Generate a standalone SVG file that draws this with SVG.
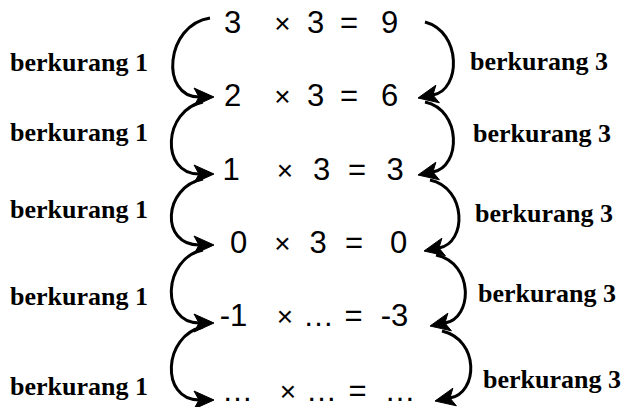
<svg xmlns="http://www.w3.org/2000/svg" width="623" height="407" viewBox="0 0 623 407">
<style>
.eq{font-family:"Liberation Sans",Arial,sans-serif;font-size:31px;fill:#000;text-anchor:middle}
.x{font-family:"Liberation Sans",Arial,sans-serif;font-size:28px;fill:#000;text-anchor:middle}
.lb{font-family:"Liberation Serif","Times New Roman",serif;font-size:26px;font-weight:bold;fill:#000}
.arc{fill:none;stroke:#000;stroke-width:3}
.ah{fill:#000;stroke:#000;stroke-width:1;stroke-linejoin:miter}
</style>
<rect width="623" height="407" fill="#fff"/>
<g id="connectors">
<path class="arc" d="M210 18 C165 25 160 97 199 97"/>
<polygon class="ah" points="214,97 194,88 199,97 194,106"/>
<path class="arc" d="M203 102 C163 110 160 174 199 174"/>
<polygon class="ah" points="214,174 194,165 199,174 194,183"/>
<path class="arc" d="M203 179 C163 187 160 245 199 245"/>
<polygon class="ah" points="214,245 194,236 199,245 194,254"/>
<path class="arc" d="M203 250 C163 258 160 323 199 323"/>
<polygon class="ah" points="214,323 194,314 199,323 194,332"/>
<path class="arc" d="M203 327 C163 335 160 400 199 400"/>
<polygon class="ah" points="214,400 194,391 199,400 194,409"/>
<path class="arc" d="M425 22 C462 32 461 90 433 95"/>
<polygon class="ah" points="418,98 439.4,102.8 432.9,95.0 435.9,85.2"/>
<path class="arc" d="M425 102 C462 110 461 167 433 172"/>
<polygon class="ah" points="418,175 439.4,179.8 432.9,172.0 435.9,162.2"/>
<path class="arc" d="M430 180 C467 188 467 243 439 248"/>
<polygon class="ah" points="424,251 445.4,255.8 438.9,248.0 441.9,238.2"/>
<path class="arc" d="M436 255 C474 263 473 318 445 323"/>
<polygon class="ah" points="430,326 451.4,330.8 444.9,323.0 447.9,313.2"/>
<path class="arc" d="M442 331 C480 340 478 393 450 398"/>
<polygon class="ah" points="435,401 456.4,405.8 449.9,398.0 452.9,388.2"/>
</g>
<g id="row1">
<text class="eq" x="232.5" y="33">3</text><text class="x" x="282.5" y="33">×</text><text class="eq" x="315.5" y="33">3</text><text class="eq" x="349" y="33">=</text><text class="eq" x="389.5" y="33">9</text>
</g>
<g id="row2">
<text class="eq" x="232.5" y="106">2</text><text class="x" x="282.5" y="106">×</text><text class="eq" x="315.5" y="106">3</text><text class="eq" x="349" y="106">=</text><text class="eq" x="389.5" y="106">6</text>
</g>
<g id="row3">
<text class="eq" x="231" y="180">1</text><text class="x" x="285" y="180">×</text><text class="eq" x="321.5" y="180">3</text><text class="eq" x="357" y="180">=</text><text class="eq" x="395" y="180">3</text>
</g>
<g id="row4">
<text class="eq" x="238.5" y="253">0</text><text class="x" x="282.5" y="253">×</text><text class="eq" x="318" y="253">3</text><text class="eq" x="354" y="253">=</text><text class="eq" x="398.5" y="253">0</text>
</g>
<g id="row5">
<text class="eq" x="233.5" y="326">-1</text><text class="x" x="285" y="326">×</text><text class="eq" x="318.5" y="326">…</text><text class="eq" x="353.5" y="326">=</text><text class="eq" x="394.5" y="326">-3</text>
</g>
<g id="row6">
<text class="eq" x="237.5" y="401">…</text><text class="x" x="288" y="401">×</text><text class="eq" x="321.5" y="401">…</text><text class="eq" x="357.5" y="401">=</text><text class="eq" x="400" y="401">…</text>
</g>
<g id="labels-left">
<text class="lb" x="10" y="71">berkurang 1</text>
<text class="lb" x="10" y="141">berkurang 1</text>
<text class="lb" x="10" y="218">berkurang 1</text>
<text class="lb" x="10" y="305">berkurang 1</text>
<text class="lb" x="10" y="395">berkurang 1</text>
</g>
<g id="labels-right">
<text class="lb" x="470" y="70">berkurang 3</text>
<text class="lb" x="473" y="142">berkurang 3</text>
<text class="lb" x="475" y="222">berkurang 3</text>
<text class="lb" x="478" y="302">berkurang 3</text>
<text class="lb" x="483" y="388">berkurang 3</text>
</g>
</svg>
